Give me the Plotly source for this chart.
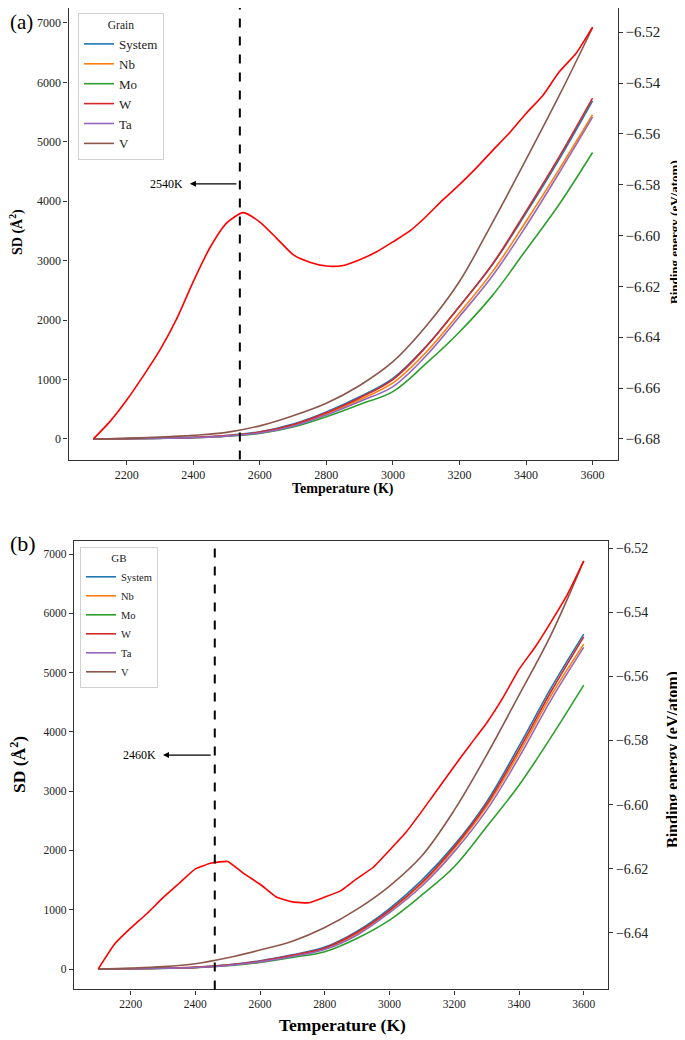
import plotly.graph_objects as go

# ---------------- data ----------------
T_sd = [2100, 2200, 2300, 2400, 2500, 2600, 2700, 2800, 2900, 3000, 3100, 3200, 3300, 3400, 3500, 3600]
T_be = [2100, 2150, 2200, 2250, 2300, 2350, 2400, 2450, 2500, 2550, 2600, 2650, 2700, 2750, 2800, 2850,
        2900, 2950, 3000, 3050, 3100, 3150, 3200, 3250, 3300, 3350, 3400, 3450, 3500, 3550, 3600]
series_names = ["System", "Nb", "Mo", "W", "Ta", "V"]
series_colors = ["#1f77b4", "#ff7f0e", "#2ca02c", "#d62728", "#9467bd", "#8c564b"]

# (a) Grain
system_a = [0, 5, 12, 26, 57, 120, 250, 455, 710, 1020, 1560, 2230, 2940, 3800, 4710, 5690]
nb_a = [0, 4, 11, 23, 52, 108, 228, 421, 660, 943, 1460, 2120, 2820, 3660, 4540, 5455]
mo_a = [0, 4, 10, 20, 45, 92, 200, 375, 580, 796, 1270, 1800, 2420, 3180, 3950, 4820]
w_a = [0, 5, 12, 25, 55, 115, 240, 440, 690, 1000, 1550, 2230, 2950, 3830, 4750, 5735]
ta_a = [0, 4, 10, 22, 48, 100, 215, 404, 630, 880, 1400, 2060, 2750, 3580, 4480, 5415]
v_a = [0, 10, 30, 60, 110, 220, 390, 600, 900, 1300, 1900, 2650, 3650, 4700, 5780, 6920]
be_a = [-6.6800, -6.6731, -6.6647, -6.6552, -6.6450, -6.6328, -6.6181, -6.6048, -6.5951, -6.5910,
        -6.5947, -6.6010, -6.6075, -6.6105, -6.6120, -6.6118, -6.6095, -6.6065, -6.6025, -6.5983,
        -6.5925, -6.5860, -6.5800, -6.5735, -6.5665, -6.5597, -6.5520, -6.5450, -6.5356, -6.5284, -6.5180]

# (b) GB
system_b = [0, 5, 15, 30, 70, 140, 240, 370, 640, 1020, 1500, 2090, 2820, 3760, 4750, 5650]
nb_b = [0, 5, 14, 28, 64, 128, 225, 345, 600, 975, 1440, 2030, 2740, 3640, 4620, 5480]
mo_b = [0, 4, 11, 22, 55, 110, 195, 292, 520, 826, 1250, 1725, 2400, 3100, 3920, 4790]
w_b = [0, 5, 14, 28, 66, 132, 230, 355, 620, 990, 1460, 2060, 2780, 3700, 4690, 5604]
ta_b = [0, 4, 12, 25, 60, 120, 212, 330, 575, 950, 1400, 1980, 2680, 3570, 4550, 5425]
v_b = [0, 15, 40, 90, 190, 320, 470, 700, 1010, 1400, 1910, 2680, 3610, 4620, 5650, 6885]
be_b = [-6.6512, -6.6435, -6.6385, -6.6340, -6.6290, -6.6245, -6.6200, -6.6182, -6.6177, -6.6215,
        -6.6248, -6.6288, -6.6303, -6.6306, -6.6288, -6.6268, -6.6230, -6.6195, -6.6142, -6.6087,
        -6.6020, -6.5950, -6.5880, -6.5812, -6.5745, -6.5667, -6.5578, -6.5508, -6.5428, -6.5343, -6.5240]

transition_a = 2540
transition_b = 2460
x_ticks = [2200, 2400, 2600, 2800, 3000, 3200, 3400, 3600]
sd_ticks = [0, 1000, 2000, 3000, 4000, 5000, 6000, 7000]
be_ticks_a = [-6.68, -6.66, -6.64, -6.62, -6.60, -6.58, -6.56, -6.54, -6.52]
be_ticks_b = [-6.64, -6.62, -6.60, -6.58, -6.56, -6.54, -6.52]

# ---------------- figure ----------------
FONT = "Liberation Serif"
OFF = 8                      # page body margin in the browser
W, H = 685 - OFF, 1040 - OFF
AX = "#333333"
TXT = "#222222"

def px_x(p):
    return min(1.0, max(0.0, (p - OFF) / W))

def px_y(p):
    return min(1.0, max(0.0, 1 - (p - OFF) / H))

fig = go.Figure()

sets_a = [system_a, nb_a, mo_a, w_a, ta_a, v_a]
sets_b = [system_b, nb_b, mo_b, w_b, ta_b, v_b]

for name, col, vals in zip(series_names, series_colors, sets_a):
    fig.add_trace(go.Scatter(x=T_sd, y=vals, mode="lines", name=name, line=dict(color=col, width=1.6),
                             xaxis="x", yaxis="y", legend="legend", line_shape="spline"))
fig.add_trace(go.Scatter(x=T_be, y=be_a, mode="lines", name="Binding energy", showlegend=False,
                         line=dict(color="#ff0000", width=1.6, shape="spline", smoothing=0.6),
                         xaxis="x", yaxis="y2"))

for name, col, vals in zip(series_names, series_colors, sets_b):
    fig.add_trace(go.Scatter(x=T_sd, y=vals, mode="lines", name=name, line=dict(color=col, width=1.6),
                             xaxis="x2", yaxis="y3", legend="legend2", line_shape="spline"))
fig.add_trace(go.Scatter(x=T_be, y=be_b, mode="lines", name="Binding energy", showlegend=False,
                         line=dict(color="#ff0000", width=1.6, shape="spline", smoothing=0.4),
                         xaxis="x2", yaxis="y4"))

xdom_a = [px_x(68.5), px_x(617.5)]
ydom_a = [px_y(459.5), px_y(8)]
xdom_b = [px_x(74), px_x(608)]
ydom_b = [px_y(989.4), px_y(540.5)]

axis_common = dict(showline=True, linecolor=AX, linewidth=1.2, ticks="outside", ticklen=4,
                   tickcolor=AX, tickwidth=1, showgrid=False, zeroline=False, automargin=False)

fig.update_layout(
    template="none",
    width=W, height=H,
    margin=dict(l=0, r=0, t=0, b=0, pad=0),
    paper_bgcolor="white", plot_bgcolor="white",
    font=dict(family=FONT, color=TXT),
    showlegend=True,
    xaxis=dict(domain=xdom_a, range=[2025, 3675], tickvals=x_ticks, anchor="y", mirror=True,
               tickfont=dict(size=12, family=FONT, color=TXT), **axis_common),
    yaxis=dict(domain=ydom_a, range=[-346, 7252], tickvals=sd_ticks, anchor="x",
               tickfont=dict(size=12, family=FONT, color=TXT), **axis_common),
    yaxis2=dict(overlaying="y", side="right", anchor="x", range=[-6.6881, -6.5105],
                tickvals=be_ticks_a, tickformat=".2f", tickfont=dict(size=15, family=FONT, color=TXT),
                **axis_common),
    xaxis2=dict(domain=xdom_b, range=[2025, 3675], tickvals=x_ticks, anchor="y3", mirror=True,
                tickfont=dict(size=11.5, family=FONT, color=TXT), **axis_common),
    yaxis3=dict(domain=ydom_b, range=[-344, 7229], tickvals=sd_ticks, anchor="x2",
                tickfont=dict(size=11.5, family=FONT, color=TXT), **axis_common),
    yaxis4=dict(overlaying="y3", side="right", anchor="x2", range=[-6.6576, -6.5176],
                tickvals=be_ticks_b, tickformat=".2f", tickfont=dict(size=14, family=FONT, color=TXT),
                **axis_common),
    legend=dict(x=px_x(78), y=px_y(13), xanchor="left", yanchor="top",
                bgcolor="white", bordercolor="#d0d0d0", borderwidth=1,
                font=dict(size=13, family=FONT, color=TXT),
                title=dict(text="Grain", side="top center", font=dict(size=11.5, family=FONT, color=TXT))),
    legend2=dict(x=px_x(80), y=px_y(547), xanchor="left", yanchor="top",
                 bgcolor="white", bordercolor="#d0d0d0", borderwidth=1,
                 font=dict(size=10.5, family=FONT, color=TXT),
                 title=dict(text="GB", side="top center", font=dict(size=11, family=FONT, color=TXT))),
)

# dashed transition lines
fig.add_shape(type="line", xref="x", yref="y domain", x0=transition_a, x1=transition_a, y0=0, y1=1,
              line=dict(color="black", width=2, dash="dash"))
fig.add_shape(type="line", xref="x2", yref="y3 domain", x0=transition_b, x1=transition_b, y0=0, y1=1,
              line=dict(color="black", width=2, dash="dash"))

# arrows and labels
fig.add_annotation(x=2390, y=4293, ax=2534, ay=4293, xref="x", yref="y", axref="x", ayref="y",
                   text="", showarrow=True, arrowhead=2, arrowsize=1, arrowwidth=1.2, arrowcolor="black")
fig.add_annotation(x=2374, y=4293, xref="x", yref="y", text="2540K", showarrow=False,
                   xanchor="right", yanchor="middle", font=dict(size=12, family=FONT, color="black"))
fig.add_annotation(x=2300, y=3609, ax=2452, ay=3609, xref="x2", yref="y3", axref="x2", ayref="y3",
                   text="", showarrow=True, arrowhead=2, arrowsize=1, arrowwidth=1.2, arrowcolor="black")
fig.add_annotation(x=2283, y=3609, xref="x2", yref="y3", text="2460K", showarrow=False,
                   xanchor="right", yanchor="middle", font=dict(size=12, family=FONT, color="black"))

# panel labels
fig.add_annotation(x=px_x(8), y=px_y(8), xref="paper", yref="paper", text="(a)", showarrow=False,
                   xanchor="left", yanchor="top", font=dict(size=21, family=FONT, color="black"))
fig.add_annotation(x=px_x(8), y=px_y(543), xref="paper", yref="paper", text="(b)", showarrow=False,
                   xanchor="left", yanchor="middle", font=dict(size=22, family=FONT, color="black"))

# axis titles
def title(text, xp, yp, size, angle=0):
    fig.add_annotation(x=px_x(xp), y=px_y(yp), xref="paper", yref="paper", text=text, showarrow=False,
                       textangle=angle, xanchor="center", yanchor="middle",
                       font=dict(size=size, family=FONT, color="black"))

title("<b>Temperature (K)</b>", 343, 489, 14)
title("<b>SD (Å<sup>2</sup>)</b>", 17, 232, 14, -90)
title("<b>Binding energy (eV/atom)</b>", 675, 232, 13, -90)
title("<b>Temperature (K)</b>", 342, 1025, 17.5)
title("<b>SD (Å<sup>2</sup>)</b>", 18, 765, 17.5, -90)
title("<b>Binding energy (eV/atom)</b>", 673, 760, 16, -90)

fig.write_html("out.html")
